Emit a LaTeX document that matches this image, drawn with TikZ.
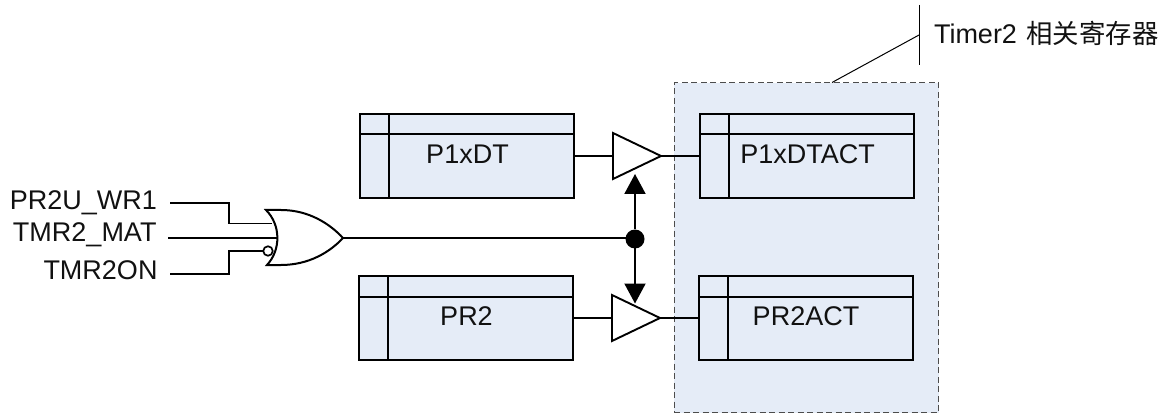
\documentclass[tikz,border=0pt]{standalone}
\usepackage{fontspec}
\setmainfont{Liberation Sans}
\newfontfamily\cjk{Noto Sans CJK SC}
\usetikzlibrary{arrows.meta}
\definecolor{regfill}{HTML}{E5ECF7}
\definecolor{txt}{HTML}{111111}
\tikzset{
  regbox/.style={draw=black,fill=regfill,line width=2pt,minimum width=214pt,minimum height=84pt,inner sep=0pt,outer sep=0pt},
  lbl/.style={font=\fontsize{27}{30}\selectfont,text=txt,inner sep=0pt,outer sep=0pt},
  wire/.style={draw=black,line width=1.9pt},
  buf/.style={draw=black,fill=white,line width=1.9pt,line join=miter},
  bidi/.style={draw=black,line width=2pt,-{Triangle[length=20pt,width=21pt]}}
}
\begin{document}
\begin{tikzpicture}[x=1pt,y=-1pt]
\useasboundingbox (0,0) rectangle (1170,414);
% highlighted region
\node[draw=black!70,dash pattern=on 6pt off 3.5pt,fill=regfill,line width=1.1pt,minimum width=264.5pt,minimum height=330pt,inner sep=0pt,outer sep=0pt] (region) at (806.3,247.7) {};
% callout
\coordinate (calltop) at (919,5);
\coordinate (callbot) at (919,65);
\coordinate (callmid) at (919,35);
\coordinate (callend) at (832,82.5);
\draw[line width=1pt] (calltop) -- (callbot);
\draw[line width=1pt] (callmid) -- (callend);
\node[lbl,anchor=base west] (calltext) at (934,44) {Timer2\hspace{2pt} {\fontsize{26.4}{30}\selectfont\cjk 相关寄存器}};
% registers
\node[regbox] (dt) at (466.7,156) {};
\node[regbox] (dtact) at (807,156) {};
\node[regbox] (pr) at (465.7,318) {};
\node[regbox] (pract) at (806,318) {};
\foreach \r/\vx in {dt/389,dtact/729,pr/388,pract/728}{
  \draw[line width=2pt] (\r.north west -| \vx,0) -- (\r.south west -| \vx,0);
  \draw[line width=2pt] ([yshift=-20.5pt]\r.north west) -- ([yshift=-20.5pt]\r.north east);
}
\node[lbl] (dtl) at (467.5,154.5) {P1xDT};
\node[lbl] (dtactl) at (807.5,154.5) {P1xDTACT};
\node[lbl] (prl) at (466.5,316.5) {PR2};
\node[lbl] (practl) at (806,316.5) {PR2ACT};
% buffers
\coordinate (b1in) at (613,156);
\coordinate (b1out) at (661,156);
\coordinate (b2in) at (612,318);
\coordinate (b2out) at (660,318);
\draw[wire] (dt.east |- b1in) -- (b1in);
\draw[wire] (b1out) -- (dtact.west |- b1out);
\draw[wire] (pr.east |- b2in) -- (b2in);
\draw[wire] (b2out) -- (pract.west |- b2out);
\draw[buf] (613,133) -- (661,156) -- (613,179) -- cycle;
\draw[buf] (612,295) -- (660,318) -- (612,341) -- cycle;
% junction and arrows
\coordinate (orout) at (343,238);
\node[circle,fill=black,minimum size=19pt,inner sep=0pt,outer sep=0pt] (junc) at (635,239) {};
\coordinate (uptip) at (635,174);
\coordinate (downtip) at (635,303.5);
\draw[bidi] (junc) -- (uptip);
\draw[bidi] (junc) -- (downtip);
\draw[wire] (orout) -- (junc.west |- orout);
% input labels
\node[lbl,anchor=base east] (a) at (157,210) {PR2U\_WR1};
\node[lbl,anchor=base east] (b) at (156.5,242) {TMR2\_MAT};
\node[lbl,anchor=base east] (c) at (157.5,279) {TMR2ON};
% input wires
\coordinate (a0) at (170,203);
\coordinate (a1) at (229,223.5);
\coordinate (a2) at (272,223.5);
\coordinate (b0) at (168,238);
\coordinate (b1) at (277,238);
\coordinate (c0) at (170,274);
\coordinate (c1) at (229,251);
\draw[wire] (a0) -| (a1) -- (a2);
\draw[wire] (b0) -- (b1);
\node[circle,draw=black,fill=white,line width=1.7pt,minimum size=9.5pt,inner sep=0pt,outer sep=0pt] (bub) at (268,251) {};
\draw[wire] (c0) -| (c1) -- (bub);
% OR gate
\draw[line width=2pt,line join=miter] (266,210)
  .. controls (281,225) and (281,250) .. (267,265)
  -- (281,265)
  .. controls (309,265) and (330,252) .. (343,238)
  .. controls (330,224) and (309,210) .. (281,210)
  -- cycle;
\end{tikzpicture}
\end{document}
